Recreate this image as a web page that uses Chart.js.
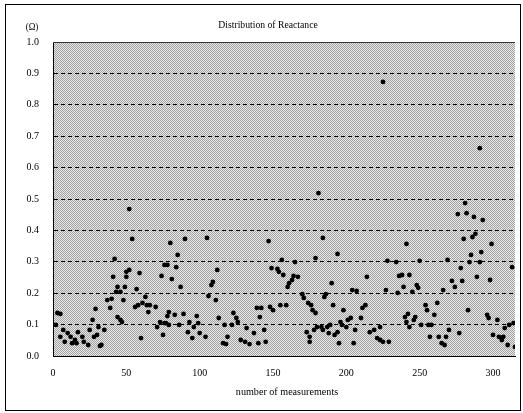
<!DOCTYPE html>
<html>
<head>
<meta charset="utf-8">
<script src="https://cdn.jsdelivr.net/npm/chart.js@4/dist/chart.umd.min.js"></script>
<style>
  html, body { margin: 0; padding: 0; background: #fff; }
  #c { display: block; }
</style>
</head>
<body>
<canvas id="c" width="523" height="413"></canvas>
<script>
const measurementNo = [
  52, 54, 42, 50, 52, 59, 41, 50, 78, 74,
  44, 49, 57, 63, 46, 43, 37, 40, 48, 39,
  29, 56, 58, 61, 64, 66, 70, 65, 44, 47,
  46, 27, 5, 2, 7, 10, 12, 5, 8, 13,
  15, 16, 20, 21, 17, 25, 28, 31, 30, 35,
  33, 24, 60, 75, 73, 77, 71, 80, 90, 105,
  147, 76, 85, 84, 112, 149, 153, 154, 156, 157,
  81, 87, 109, 108, 106, 111, 79, 83, 89, 78,
  76, 79, 98, 86, 93, 96, 99, 113, 123, 125,
  126, 122, 117, 139, 142, 148, 150, 155, 141, 132,
  144, 137, 92, 100, 104, 95, 119, 128, 131, 134,
  116, 118, 140, 145, 181, 184, 194, 179, 228, 234,
  165, 164, 163, 167, 160, 161, 190, 214, 204, 207,
  186, 185, 227, 235, 170, 171, 174, 176, 159, 191,
  213, 211, 177, 179, 198, 210, 203, 201, 196, 197,
  200, 180, 183, 178, 187, 189, 184, 188, 192, 194,
  173, 175, 175, 195, 205, 206, 216, 219, 221, 223,
  225, 229, 223, 281, 276, 282, 287, 293, 280, 286,
  288, 299, 241, 292, 285, 269, 284, 291, 250, 313,
  278, 289, 298, 272, 279, 236, 238, 243, 274, 248,
  249, 239, 245, 266, 254, 262, 255, 283, 260, 242,
  240, 247, 246, 296, 297, 303, 243, 251, 256, 258,
  241, 311, 314, 308, 270, 277, 257, 263, 268, 300,
  304, 307, 306, 265, 267, 310, 315, 291, 225, 3,
  32
];
const reactance = [
  .468, .373, .309, .268, .274, .264, .252, .252, .290, .255,
  .220, .220, .213, .188, .204, .204, .178, .182, .178, .153,
  .150, .156, .162, .169, .162, .162, .156, .140, .124, .108,
  .115, .115, .134, .099, .083, .073, .061, .061, .045, .041,
  .051, .041, .061, .045, .076, .083, .061, .092, .067, .083,
  .035, .035, .057, .067, .108, .105, .092, .360, .373, .376,
  .366, .290, .322, .283, .274, .280, .277, .268, .306, .258,
  .245, .220, .236, .226, .191, .178, .140, .131, .134, .127,
  .105, .099, .127, .099, .108, .092, .105, .121, .137, .121,
  .108, .099, .099, .153, .153, .156, .146, .162, .124, .089,
  .083, .073, .076, .073, .061, .057, .061, .051, .045, .038,
  .041, .038, .041, .045, .519, .376, .325, .312, .303, .299,
  .299, .255, .242, .252, .220, .232, .232, .252, .210, .207,
  .197, .188, .210, .201, .197, .185, .169, .162, .162, .162,
  .162, .153, .146, .137, .146, .121, .121, .115, .108, .099,
  .092, .092, .092, .083, .092, .099, .083, .073, .067, .076,
  .076, .061, .045, .041, .041, .083, .076, .083, .057, .051,
  .045, .045, .092, .487, .452, .455, .443, .433, .373, .379,
  .389, .357, .357, .331, .322, .306, .299, .299, .303, .283,
  .280, .252, .242, .239, .239, .255, .258, .258, .220, .226,
  .217, .220, .204, .210, .162, .169, .146, .146, .131, .134,
  .124, .124, .115, .131, .121, .115, .092, .099, .099, .099,
  .108, .099, .105, .089, .083, .073, .061, .061, .061, .067,
  .061, .061, .051, .041, .035, .035, .029, .662, .873, .137,
  .032
];

const titleText = 'Distribution of Reactance';
const xTitle = 'number of measurements';
const unitText = '(\u03A9)';

const points = measurementNo.map((x, i) => ({ x: x, y: reactance[i] }));

// grey dithered fill like the scanned plot area
const pc = document.createElement('canvas');
pc.width = 4; pc.height = 4;
const pctx = pc.getContext('2d');
pctx.fillStyle = '#e8e8e8';
pctx.fillRect(0, 0, 4, 4);
pctx.fillStyle = '#a2a2a2';
for (let yy = 0; yy < 4; yy++) {
  for (let xx = 0; xx < 4; xx++) {
    if ((xx + yy) % 2 === 0) pctx.fillRect(xx, yy, 1, 1);
  }
}
const bgPattern = pctx.createPattern(pc, 'repeat');

function squeezed(ctx, text, x, y, size, sx) {
  ctx.save();
  ctx.translate(x, y);
  ctx.scale(sx, 1);
  ctx.font = size + 'px "Liberation Serif", "Times New Roman", serif';
  ctx.fillStyle = '#000';
  ctx.textAlign = 'center';
  ctx.textBaseline = 'middle';
  ctx.fillText(text, 0, 0);
  ctx.restore();
}

const decor = {
  id: 'decor',
  beforeDraw(chart) {
    const { ctx, chartArea: a } = chart;
    ctx.save();
    ctx.fillStyle = '#fff';
    ctx.fillRect(0, 0, chart.width, chart.height);
    ctx.fillStyle = bgPattern;
    ctx.fillRect(a.left, a.top, a.right - a.left, a.bottom - a.top);
    ctx.restore();
  },
  afterDraw(chart) {
    const { ctx, chartArea: a } = chart;
    ctx.save();
    ctx.strokeStyle = '#000';
    ctx.lineWidth = 1;
    ctx.strokeRect(5.5, 4.5, 515, 406);
    ctx.strokeStyle = '#333';
    ctx.beginPath();
    ctx.moveTo(a.left, a.top + 0.5);
    ctx.lineTo(a.right, a.top + 0.5);
    ctx.stroke();
    ctx.restore();
    squeezed(ctx, titleText, 268, 25, 11, 0.88);
    squeezed(ctx, unitText, 32, 27, 10, 0.9);
    squeezed(ctx, xTitle, 287, 392, 11, 0.92);
  }
};

new Chart(document.getElementById('c'), {
  type: 'scatter',
  data: {
    datasets: [{
      label: 'Reactance',
      data: points,
      pointRadius: 2.4,
      pointHoverRadius: 2.4,
      pointBackgroundColor: '#000',
      pointBorderWidth: 0
    }]
  },
  options: {
    responsive: false,
    animation: false,
    layout: { padding: { top: 42, right: 8, left: 0, bottom: 0 } },
    plugins: {
      legend: { display: false },
      tooltip: { enabled: false },
      title: { display: false }
    },
    scales: {
      x: {
        type: 'linear',
        min: 0,
        max: 315,
        afterFit: (s) => { s.height = 57; },
        ticks: {
          stepSize: 50,
          includeBounds: false,
          padding: 11,
          color: '#000',
          font: { family: '"Liberation Serif", serif', size: 10 }
        },
        grid: { display: false, drawTicks: false },
        border: { display: true, color: '#000', width: 1 }
      },
      y: {
        min: 0,
        max: 1,
        afterFit: (s) => { s.width = 53; },
        ticks: {
          stepSize: 0.1,
          padding: 14,
          color: '#000',
          font: { family: '"Liberation Serif", serif', size: 10 },
          callback: (v) => Number(v).toFixed(1)
        },
        grid: {
          drawTicks: false,
          lineWidth: 1,
          color: (c) => {
            const v = c.tick ? c.tick.value : 0;
            return (Math.abs(v) < 1e-6 || Math.abs(v - 1) < 1e-6) ? 'rgba(0,0,0,0)' : '#000';
          }
        },
        border: { display: true, color: '#000', width: 1, dash: [4, 3] }
      }
    }
  },
  plugins: [decor]
});
</script>
</body>
</html>
